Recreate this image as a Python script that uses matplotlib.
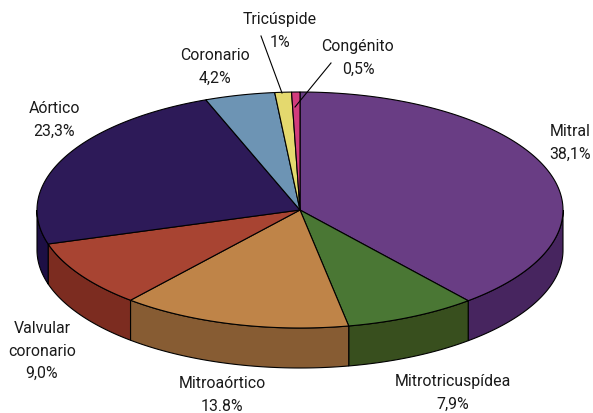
import numpy as np
import matplotlib
matplotlib.use('Agg')
import matplotlib.pyplot as plt
from matplotlib.patches import Polygon

# Datos
labels = ['Mitral', 'Mitrotricuspídea', 'Mitroaórtico', 'Valvular\ncoronario',
          'Aórtico', 'Coronario', 'Tricúspide', 'Congénito']
value_text = ['38,1%', '7,9%', '13.8%', '9,0%', '23,3%', '4,2%', '1%', '0,5%']
values = [38.1, 7.9, 13.8, 9.0, 23.3, 4.2, 1.0, 0.5]

colors = ['#693d84', '#4a7734', '#bf8448', '#a84432', '#2d1a58', '#6d94b4', '#e4d96e', '#d23c7c']
side_colors = ['#47255f', '#384f1e', '#875c33', '#7c2c20', '#1d0f44', '#4a6a85', '#a09a4a', '#90285a']

# Geometría (píxeles)
cx, cy = 300, 210
rx, ry = 263, 118
depth = 40

label_pos = [(570, 143), (453, 393), (222, 395), (42, 351), (54, 120), (215, 67), (280, 31), (358, 58)]
leaders = [((261, 36), (282, 93)), ((331, 63), (295, 107))]

plt.rcParams['font.family'] = ['Roboto', 'Liberation Sans', 'DejaVu Sans']

fig = plt.figure(figsize=(5.93, 4.13), dpi=100)
ax = fig.add_axes([0, 0, 1, 1])
ax.set_xlim(0, 593)
ax.set_ylim(413, 0)
ax.axis('off')


def rim(a, b, n=120):
    # a y b en fracciones de vuelta, desde arriba en sentido horario
    t = np.linspace(a, b, n) * 2 * np.pi
    return cx + rx * np.sin(t), cy - ry * np.cos(t)


edges = np.concatenate([[0], np.cumsum(values)]) / np.sum(values)

# Pared lateral (solo la mitad de adelante)
for i in range(len(values)):
    a = max(edges[i], 0.25)
    b = min(edges[i + 1], 0.75)
    if b <= a:
        continue
    x, y = rim(a, b)
    px = np.concatenate([x, x[::-1]])
    py = np.concatenate([y, y[::-1] + depth])
    ax.add_patch(Polygon(np.column_stack([px, py]), closed=True,
                         facecolor=side_colors[i], edgecolor='black', linewidth=0.8))

# Cara superior
for i in range(len(values)):
    x, y = rim(edges[i], edges[i + 1])
    px = np.concatenate([[cx], x])
    py = np.concatenate([[cy], y])
    ax.add_patch(Polygon(np.column_stack([px, py]), closed=True,
                         facecolor=colors[i], edgecolor='black', linewidth=0.8))

# Etiquetas
for lab, val, pos in zip(labels, value_text, label_pos):
    ax.text(pos[0], pos[1], lab + '\n' + val, ha='center', va='center',
            fontsize=11.4, color='#1a1a1a', linespacing=1.6)

for p0, p1 in leaders:
    ax.plot([p0[0], p1[0]], [p0[1], p1[1]], color='black', linewidth=0.8)

fig.savefig('out.png', dpi=100)
